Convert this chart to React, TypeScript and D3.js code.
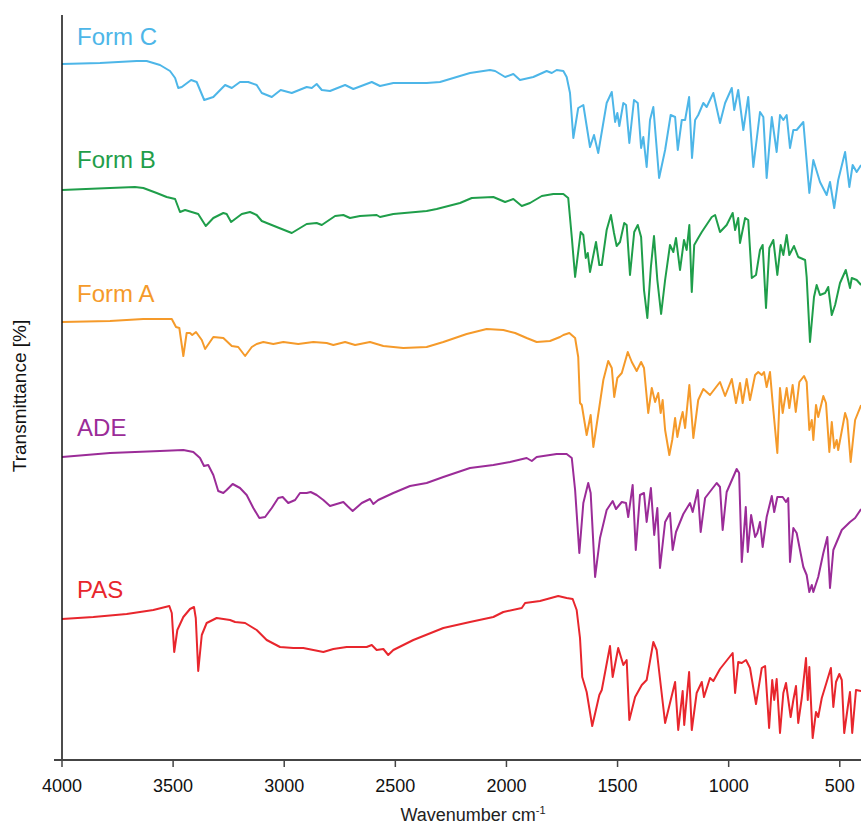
import React from "react";
import * as d3 from "d3";

// Wavenumber (cm-1) / offset transmittance (arbitrary units) pairs
const formC: [number, number][] = [
  [4000, 696], [3829, 697], [3664, 699], [3619, 699], [3559, 695], [3514, 689], [3491, 682], [3477, 672],
  [3461, 673], [3419, 680], [3394, 678], [3360, 660], [3319, 663], [3266, 675], [3236, 672], [3199, 678],
  [3162, 678], [3124, 675], [3101, 667], [3056, 663], [3016, 670], [2966, 667], [2899, 673], [2876, 672],
  [2854, 676], [2831, 670], [2794, 669], [2726, 675], [2689, 671], [2606, 678], [2569, 674], [2509, 677],
  [2359, 677], [2299, 678], [2164, 687], [2074, 690], [2051, 689], [2006, 683], [1969, 686], [1939, 680],
  [1879, 683], [1819, 689], [1796, 687], [1774, 690], [1744, 689], [1729, 683], [1714, 667], [1699, 622],
  [1677, 652], [1654, 655], [1624, 613], [1606, 625], [1587, 607], [1549, 657], [1526, 668], [1511, 638],
  [1501, 647], [1492, 634], [1474, 657], [1462, 655], [1447, 617], [1426, 660], [1409, 657], [1394, 612],
  [1384, 623], [1369, 593], [1354, 640], [1339, 653], [1313, 582], [1286, 610], [1261, 645], [1241, 643],
  [1229, 610], [1211, 640], [1196, 640], [1178, 663], [1165, 602], [1151, 640], [1137, 645], [1114, 657],
  [1099, 653], [1069, 667], [1039, 637], [1016, 657], [986, 672], [975, 650], [957, 670], [934, 630],
  [912, 663], [889, 593], [859, 648], [844, 643], [829, 582], [806, 643], [784, 608], [769, 645],
  [754, 640], [739, 645], [724, 612], [709, 630], [694, 630], [664, 638], [637, 567], [619, 600],
  [589, 578], [559, 565], [544, 578], [525, 552], [507, 580], [476, 608], [457, 573], [442, 595],
  [424, 588], [404, 595],
];

const formB: [number, number][] = [
  [4000, 570], [3784, 572], [3672, 573], [3634, 572], [3574, 567], [3529, 563], [3491, 561], [3469, 548],
  [3446, 550], [3387, 546], [3353, 534], [3319, 542], [3274, 547], [3259, 546], [3239, 538], [3191, 546],
  [3154, 548], [3124, 545], [3101, 539], [3034, 533], [2966, 527], [2899, 536], [2854, 537], [2831, 535],
  [2771, 544], [2734, 545], [2704, 542], [2659, 544], [2584, 545], [2569, 543], [2509, 546], [2359, 549],
  [2314, 551], [2209, 557], [2156, 562], [2059, 563], [2006, 558], [1969, 561], [1931, 554], [1894, 557],
  [1841, 564], [1789, 566], [1744, 566], [1722, 562], [1706, 523], [1691, 483], [1666, 528], [1654, 525],
  [1643, 502], [1634, 507], [1624, 488], [1597, 518], [1582, 495], [1571, 495], [1549, 530], [1530, 545],
  [1516, 527], [1504, 514], [1489, 518], [1470, 537], [1459, 535], [1444, 485], [1425, 528], [1409, 535],
  [1394, 523], [1381, 470], [1366, 442], [1350, 493], [1336, 524], [1321, 480], [1304, 446], [1286, 480],
  [1264, 515], [1249, 508], [1237, 522], [1219, 490], [1201, 520], [1189, 510], [1177, 535], [1166, 468],
  [1155, 515], [1137, 522], [1121, 528], [1076, 543], [1061, 545], [1039, 528], [1009, 535], [982, 547],
  [971, 530], [957, 542], [949, 517], [926, 542], [912, 540], [896, 482], [877, 485], [859, 510],
  [847, 515], [832, 452], [817, 512], [799, 520], [781, 485], [766, 515], [754, 505], [739, 525],
  [727, 505], [706, 514], [687, 503], [656, 500], [649, 483], [634, 418], [616, 463], [604, 475],
  [589, 465], [566, 467], [552, 473], [536, 445], [521, 455], [499, 477], [473, 490], [454, 472],
  [446, 482], [424, 480], [404, 475],
];

const formA: [number, number][] = [
  [4000, 438], [3784, 439], [3634, 441], [3506, 441], [3487, 433], [3472, 432], [3454, 404], [3439, 427],
  [3424, 427], [3414, 425], [3397, 428], [3371, 420], [3356, 411], [3319, 423], [3274, 422], [3236, 414],
  [3207, 413], [3176, 404], [3146, 413], [3124, 416], [3094, 418], [3049, 416], [3004, 418], [2937, 416],
  [2869, 418], [2809, 417], [2779, 415], [2726, 418], [2681, 415], [2614, 418], [2554, 414], [2464, 412],
  [2359, 413], [2284, 418], [2179, 426], [2089, 431], [2014, 430], [1961, 427], [1909, 422], [1864, 418],
  [1804, 419], [1759, 423], [1744, 425], [1717, 427], [1691, 422], [1677, 403], [1669, 357], [1661, 355],
  [1639, 325], [1621, 345], [1609, 313], [1582, 353], [1564, 380], [1542, 399], [1526, 392], [1515, 363],
  [1501, 382], [1481, 387], [1454, 408], [1436, 398], [1414, 389], [1394, 398], [1381, 392], [1362, 347],
  [1346, 372], [1331, 358], [1317, 367], [1306, 347], [1297, 360], [1286, 330], [1267, 305], [1254, 320],
  [1241, 342], [1231, 323], [1216, 340], [1207, 348], [1196, 332], [1177, 375], [1159, 322], [1137, 360],
  [1114, 371], [1084, 365], [1039, 378], [1016, 364], [986, 381], [967, 357], [949, 377], [937, 357],
  [919, 381], [904, 360], [881, 385], [867, 388], [851, 385], [841, 388], [829, 373], [814, 388],
  [802, 357], [781, 307], [769, 372], [757, 347], [739, 372], [727, 352], [712, 375], [698, 348],
  [682, 378], [661, 384], [649, 378], [637, 330], [626, 340], [619, 320], [607, 355], [597, 343],
  [574, 364], [562, 357], [547, 308], [536, 338], [525, 312], [514, 320], [507, 310], [476, 347],
  [466, 340], [451, 298], [431, 340], [404, 355],
];

const ade: [number, number][] = [
  [4000, 303], [3784, 307], [3559, 309], [3454, 310], [3409, 308], [3379, 302], [3361, 294], [3342, 295],
  [3319, 285], [3297, 269], [3274, 267], [3259, 270], [3232, 276], [3199, 272], [3169, 265], [3139, 252],
  [3112, 242], [3086, 243], [3056, 252], [3027, 262], [3007, 263], [2982, 257], [2951, 260], [2929, 267],
  [2899, 267], [2881, 268], [2854, 265], [2824, 260], [2794, 254], [2764, 256], [2734, 258], [2716, 254],
  [2692, 249], [2651, 257], [2614, 261], [2599, 256], [2577, 260], [2509, 267], [2434, 274], [2359, 277],
  [2284, 283], [2164, 292], [2059, 295], [1984, 298], [1909, 302], [1886, 299], [1864, 303], [1774, 306],
  [1729, 306], [1706, 302], [1691, 270], [1672, 207], [1654, 257], [1632, 277], [1621, 267], [1601, 183],
  [1579, 222], [1549, 250], [1522, 259], [1507, 251], [1481, 258], [1462, 257], [1452, 243], [1432, 275],
  [1418, 210], [1399, 265], [1381, 267], [1369, 238], [1350, 272], [1335, 225], [1321, 252], [1309, 192],
  [1286, 238], [1264, 247], [1252, 210], [1237, 228], [1204, 246], [1174, 257], [1162, 248], [1139, 270],
  [1126, 228], [1106, 262], [1054, 277], [1039, 273], [1027, 230], [1009, 268], [964, 291], [953, 287],
  [941, 198], [923, 253], [914, 208], [899, 245], [881, 223], [871, 227], [859, 238], [847, 213],
  [829, 243], [806, 264], [795, 248], [781, 263], [757, 263], [742, 258], [732, 262], [724, 198],
  [709, 232], [694, 227], [664, 193], [649, 185], [637, 168], [626, 175], [619, 168], [597, 183],
  [574, 207], [556, 223], [544, 172], [529, 210], [491, 230], [454, 238], [431, 242], [404, 251],
];

const pas: [number, number][] = [
  [4000, 141], [3859, 143], [3709, 146], [3589, 150], [3517, 154], [3506, 147], [3495, 108], [3481, 130],
  [3454, 143], [3424, 151], [3406, 153], [3398, 142], [3387, 89], [3371, 125], [3349, 137], [3304, 142],
  [3244, 140], [3221, 138], [3176, 137], [3124, 130], [3079, 120], [3019, 113], [2959, 112], [2914, 112],
  [2824, 108], [2779, 111], [2719, 113], [2629, 113], [2606, 115], [2584, 110], [2554, 111], [2532, 105],
  [2509, 110], [2419, 120], [2284, 132], [2164, 138], [2059, 143], [2014, 148], [1931, 152], [1916, 157],
  [1849, 159], [1767, 164], [1729, 162], [1702, 161], [1684, 150], [1669, 122], [1659, 83], [1639, 68],
  [1614, 34], [1582, 65], [1571, 70], [1534, 114], [1522, 83], [1497, 112], [1474, 95], [1459, 100],
  [1447, 40], [1421, 63], [1391, 75], [1369, 80], [1339, 118], [1324, 110], [1286, 37], [1241, 78],
  [1227, 30], [1207, 69], [1200, 35], [1178, 88], [1166, 30], [1144, 67], [1121, 78], [1111, 63],
  [1084, 82], [1069, 79], [1039, 91], [982, 107], [971, 67], [957, 98], [941, 97], [922, 100],
  [904, 92], [877, 56], [851, 92], [836, 94], [818, 32], [804, 80], [795, 60], [784, 81],
  [769, 27], [754, 67], [742, 77], [721, 43], [709, 60], [697, 74], [687, 37], [671, 62],
  [652, 102], [644, 60], [637, 93], [622, 22], [607, 48], [597, 43], [581, 62], [559, 78],
  [540, 92], [529, 53], [517, 78], [502, 86], [491, 80], [480, 27], [464, 53], [454, 68],
  [444, 27], [427, 70], [404, 69],
];

const seriesNames = ["Form C", "Form B", "Form A", "ADE", "PAS"];
const seriesColors = ["#4db6e8", "#1f9e4a", "#f59a2a", "#9b2c98", "#e8262d"];
const seriesData = [formC, formB, formA, ade, pas];
// label anchor (wavenumber, offset value)
const labelWn = 3932;
const labelValues = [715, 592, 458, 324, 162];

const xTicks = [4000, 3500, 3000, 2500, 2000, 1500, 1000, 500];

export default function App() {
  const W = 861;
  const H = 828;
  const left = 62;
  const right = 862;
  const top = 0;
  const bottom = 760;

  const x = d3.scaleLinear().domain([4000, 400]).range([left, right]);
  const y = d3.scaleLinear().domain([0, 760]).range([bottom, top]);
  const line = d3
    .line<[number, number]>()
    .x((d) => x(d[0]))
    .y((d) => y(d[1]));

  const font = "'Liberation Sans', Arial, Helvetica, sans-serif";

  return (
    <svg
      width={W}
      height={H}
      style={{ position: "absolute", left: 0, top: 0, background: "#fff" }}
      fontFamily={font}
    >
      <rect x={0} y={0} width={W} height={H} fill="#fff" />
      {seriesData.map((d, i) => (
        <path
          key={seriesNames[i]}
          d={line(d) || ""}
          fill="none"
          stroke={seriesColors[i]}
          strokeWidth={2}
          strokeLinejoin="round"
        />
      ))}
      {seriesNames.map((n, i) => (
        <text
          key={n}
          x={x(labelWn)}
          y={y(labelValues[i])}
          fill={seriesColors[i]}
          fontSize={24}
        >
          {n}
        </text>
      ))}
      {/* y axis */}
      <line x1={left} x2={left} y1={15} y2={bottom} stroke="#111" strokeWidth={1.5} />
      {/* x axis */}
      <line x1={54} x2={W} y1={bottom} y2={bottom} stroke="#444" strokeWidth={2} />
      {xTicks.map((t) => (
        <g key={t}>
          <line x1={x(t)} x2={x(t)} y1={bottom} y2={bottom + 7} stroke="#444" strokeWidth={1.5} />
          <text x={x(t)} y={bottom + 32} textAnchor="middle" fontSize={18} fill="#111">
            {t}
          </text>
        </g>
      ))}
      <text x={473} y={821} textAnchor="middle" fontSize={18} fill="#222">
        Wavenumber cm
        <tspan fontSize={11} dy={-7}>-1</tspan>
      </text>
      <text
        transform={`translate(26,396) rotate(-90)`}
        textAnchor="middle"
        fontSize={19}
        fill="#111"
      >
        Transmittance [%]
      </text>
    </svg>
  );
}
